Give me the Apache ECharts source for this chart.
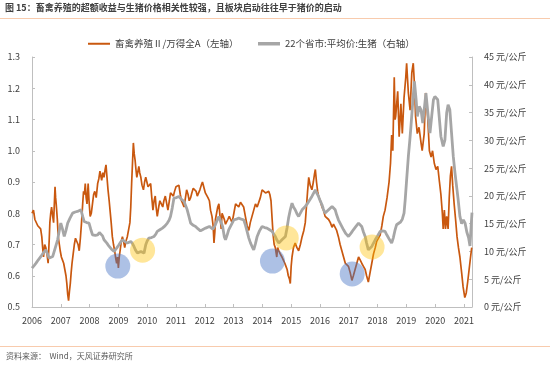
<!DOCTYPE html>
<html>
<head>
<meta charset="utf-8">
<script src="https://cdn.jsdelivr.net/npm/echarts@6/dist/echarts.min.js"></script>
<style>
html,body{margin:0;padding:0;background:#fff;}
#c{width:550px;height:365px;}
</style>
</head>
<body>
<div id="c"></div>
<script>
// ---- Data ----
const titleText = '图 15：畜禽养殖的超额收益与生猪价格相关性较强，且板块启动往往早于猪价的启动';
const sourceText = '资料来源：  Wind，天风证券研究所';
const seriesNameLeft = '畜禽养殖Ⅱ/万得全A（左轴）';
const seriesNameRight = '22个省市:平均价:生猪（右轴）';
const xTickYears = [2006,2007,2008,2009,2010,2011,2012,2013,2014,2015,2016,2017,2018,2019,2020,2021];

// Sector excess-return ratio (left axis), decimal year
const ratioYears = [
2006.00,2006.05,2006.10,2006.14,2006.20,2006.25,2006.30,2006.34,2006.37,2006.40,2006.44,2006.48,2006.52,2006.56,2006.60,2006.62,2006.65,2006.68,2006.72,2006.75,2006.78,2006.80,2006.82,2006.84,2006.88,2006.91,2006.95,2006.98,
2007.02,2007.06,2007.10,2007.14,2007.18,2007.21,2007.24,2007.27,2007.30,2007.33,2007.36,2007.39,2007.43,2007.47,2007.51,2007.56,2007.60,2007.64,2007.68,2007.72,2007.76,2007.79,2007.82,2007.85,2007.88,2007.91,2007.95,2007.98,
2008.02,2008.06,2008.10,2008.14,2008.18,2008.23,2008.28,2008.32,2008.36,2008.39,2008.42,2008.46,2008.50,2008.54,2008.57,2008.60,2008.64,2008.68,2008.71,2008.75,2008.79,2008.83,2008.87,2008.90,2008.94,2008.97,
2009.00,2009.03,2009.06,2009.10,2009.14,2009.18,2009.22,2009.26,2009.31,2009.36,2009.40,2009.43,2009.46,2009.49,2009.52,2009.55,2009.58,2009.61,2009.64,2009.67,2009.71,2009.74,2009.78,2009.82,2009.87,2009.91,2009.95,2009.99,
2010.03,2010.08,2010.12,2010.16,2010.20,2010.24,2010.28,2010.31,2010.35,2010.40,2010.44,2010.49,2010.54,2010.58,2010.63,2010.68,2010.72,2010.77,2010.81,2010.86,2010.91,2010.95,
2011.00,2011.05,2011.10,2011.15,2011.19,2011.24,2011.28,2011.33,2011.37,2011.42,2011.46,2011.51,2011.55,2011.60,2011.65,2011.70,2011.74,2011.79,2011.83,2011.88,2011.92,2011.97,
2012.02,2012.06,2012.11,2012.16,2012.20,2012.25,2012.29,2012.32,2012.35,2012.37,2012.41,2012.45,2012.49,2012.53,2012.57,2012.60,2012.64,2012.68,2012.72,2012.75,2012.80,2012.85,2012.90,2012.95,
2013.01,2013.07,2013.12,2013.18,2013.24,2013.30,2013.35,2013.41,2013.47,2013.53,2013.58,2013.64,2013.70,2013.76,2013.82,2013.87,2013.93,2013.99,
2014.05,2014.11,2014.16,2014.22,2014.26,2014.30,2014.34,2014.37,2014.41,2014.45,2014.50,2014.53,2014.57,2014.62,2014.68,2014.73,2014.78,2014.82,2014.86,2014.90,2014.94,2014.97,
2015.00,2015.03,2015.08,2015.14,2015.20,2015.26,2015.32,2015.38,2015.44,2015.49,2015.53,2015.57,2015.61,2015.66,2015.72,2015.77,2015.81,2015.84,2015.88,2015.92,2015.95,
2016.01,2016.07,2016.12,2016.18,2016.24,2016.30,2016.36,2016.42,2016.47,2016.53,2016.58,2016.64,2016.70,2016.76,2016.82,2016.88,2016.94,2016.99,
2017.05,2017.11,2017.16,2017.22,2017.28,2017.34,2017.40,2017.45,2017.51,2017.57,2017.62,2017.68,2017.74,2017.80,2017.86,2017.92,2017.97,
2018.03,2018.09,2018.15,2018.20,2018.26,2018.33,2018.40,2018.45,2018.49,2018.53,2018.58,2018.61,2018.63,2018.70,2018.75,2018.81,2018.86,2018.92,2018.98,
2019.01,2019.07,2019.13,2019.19,2019.24,2019.28,2019.32,2019.38,2019.44,2019.51,2019.55,2019.62,2019.67,2019.74,2019.80,2019.86,2019.91,2019.97,
2020.03,2020.09,2020.15,2020.20,2020.25,2020.28,2020.32,2020.36,2020.40,2020.45,2020.49,2020.53,2020.57,2020.61,2020.66,2020.71,2020.76,2020.81,2020.86,2020.92,2020.97,
2021.03,2021.08,2021.13,2021.18,2021.23,2021.27
];
const ratioValues = [
0.80,0.81,0.78,0.785,0.76,0.757,0.75,0.725,0.69,0.66,0.70,0.69,0.67,0.64,0.72,0.77,0.80,0.82,0.79,0.77,0.84,0.885,0.85,0.83,0.78,0.725,0.70,0.68,
0.66,0.65,0.64,0.62,0.60,0.575,0.54,0.52,0.55,0.575,0.61,0.64,0.67,0.70,0.72,0.725,0.70,0.68,0.72,0.77,0.83,0.87,0.86,0.895,0.85,0.83,0.895,0.84,
0.79,0.80,0.83,0.86,0.87,0.85,0.895,0.91,0.935,0.92,0.905,0.93,0.915,0.94,0.955,0.92,0.875,0.84,0.81,0.77,0.725,0.70,0.68,0.66,0.64,0.66,
0.625,0.66,0.68,0.71,0.725,0.71,0.69,0.71,0.725,0.75,0.77,0.82,0.895,0.96,1.025,0.99,0.97,0.94,0.915,0.93,0.95,0.93,0.915,0.89,0.875,0.90,0.915,0.90,
0.885,0.89,0.895,0.85,0.81,0.84,0.855,0.82,0.79,0.82,0.84,0.83,0.82,0.84,0.855,0.83,0.81,0.84,0.865,0.86,0.855,0.87,
0.885,0.88,0.89,0.86,0.84,0.83,0.82,0.85,0.875,0.86,0.84,0.85,0.865,0.88,0.885,0.87,0.855,0.86,0.875,0.89,0.90,0.895,
0.865,0.87,0.85,0.84,0.81,0.79,0.76,0.705,0.74,0.78,0.80,0.82,0.83,0.79,0.75,0.80,0.79,0.78,0.765,0.76,0.78,0.79,0.78,0.77,
0.80,0.83,0.825,0.82,0.835,0.84,0.82,0.79,0.76,0.745,0.77,0.79,0.81,0.83,0.82,0.82,0.85,0.875,
0.87,0.865,0.87,0.87,0.86,0.84,0.78,0.735,0.70,0.69,0.66,0.69,0.68,0.67,0.66,0.65,0.64,0.63,0.62,0.60,0.59,0.575,
0.63,0.66,0.69,0.705,0.69,0.68,0.70,0.725,0.745,0.77,0.82,0.87,0.915,0.89,0.875,0.90,0.925,0.94,0.90,0.87,0.855,
0.84,0.82,0.81,0.79,0.785,0.78,0.77,0.755,0.765,0.77,0.745,0.725,0.70,0.68,0.66,0.64,0.635,0.63,
0.61,0.585,0.60,0.62,0.64,0.66,0.65,0.64,0.63,0.62,0.60,0.58,0.61,0.64,0.67,0.69,0.71,
0.705,0.73,0.76,0.79,0.81,0.85,0.90,0.96,1.05,1.00,1.235,1.10,1.11,1.19,1.045,1.15,1.055,1.17,1.235,
1.28,1.185,1.13,1.25,1.28,1.215,1.11,1.055,1.075,1.025,1.00,1.055,1.185,1.11,1.00,0.98,1.00,0.96,
0.94,0.95,0.90,0.86,0.80,0.75,0.81,0.75,0.79,0.75,0.85,0.92,0.95,0.89,0.83,0.78,0.725,0.69,0.66,0.61,0.565,
0.53,0.545,0.58,0.62,0.66,0.69
];

// Hog price, 22 provinces average (right axis, 元/公斤)
const priceYears = [
2006.00,2006.08,2006.14,2006.22,2006.31,2006.40,2006.48,2006.55,2006.60,2006.66,2006.72,2006.80,2006.89,2006.95,
2007.00,2007.06,2007.12,2007.18,2007.24,2007.32,2007.41,2007.50,2007.58,2007.64,2007.70,2007.76,2007.81,2007.90,2007.98,
2008.04,2008.10,2008.20,2008.28,2008.34,2008.39,2008.45,2008.50,2008.60,2008.68,2008.76,2008.85,2008.94,
2009.02,2009.08,2009.14,2009.22,2009.31,2009.37,2009.43,2009.49,2009.54,2009.60,2009.66,2009.72,2009.78,2009.84,2009.89,2009.95,
2010.00,2010.06,2010.15,2010.24,2010.30,2010.35,2010.44,2010.53,2010.62,2010.70,2010.76,2010.81,2010.87,2010.93,
2011.02,2011.10,2011.19,2011.28,2011.34,2011.39,2011.45,2011.51,2011.60,2011.68,2011.76,2011.85,2011.95,
2012.03,2012.09,2012.16,2012.22,2012.28,2012.35,2012.43,2012.49,2012.55,2012.62,2012.68,2012.72,2012.78,2012.83,2012.92,
2013.01,2013.10,2013.18,2013.27,2013.35,2013.41,2013.47,2013.53,2013.59,2013.65,2013.70,2013.76,2013.82,2013.90,2013.99,
2014.08,2014.16,2014.25,2014.34,2014.40,2014.45,2014.51,2014.57,2014.62,2014.68,2014.74,2014.80,2014.86,2014.91,2014.97,
2015.03,2015.08,2015.14,2015.20,2015.26,2015.32,2015.38,2015.44,2015.49,2015.55,2015.61,2015.66,2015.72,2015.78,2015.84,2015.90,2015.95,
2016.01,2016.07,2016.12,2016.18,2016.24,2016.30,2016.36,2016.42,2016.47,2016.53,2016.58,2016.64,2016.73,2016.82,2016.90,2016.99,
2017.08,2017.16,2017.25,2017.34,2017.40,2017.45,2017.51,2017.57,2017.62,2017.68,2017.74,2017.80,2017.86,2017.92,
2018.00,2018.09,2018.17,2018.26,2018.32,2018.38,2018.43,2018.49,2018.55,2018.61,2018.66,2018.72,2018.80,2018.86,2018.92,2018.96,
2019.01,2019.07,2019.12,2019.16,2019.22,2019.28,2019.34,2019.38,2019.45,2019.51,2019.57,2019.62,2019.68,2019.76,2019.82,2019.88,2019.94,2019.99,
2020.05,2020.09,2020.14,2020.20,2020.28,2020.34,2020.40,2020.45,2020.51,2020.57,2020.63,2020.69,2020.75,2020.80,2020.86,2020.92,2020.98,
2021.04,2021.10,2021.16,2021.21,2021.25,2021.28
];
const priceValues = [
7.0,7.5,7.9,8.5,9.1,9.8,10.3,9.4,8.8,8.9,9.1,10.5,12.1,13.8,
15.1,14.0,12.7,13.8,15.1,16.0,16.9,17.1,17.2,17.4,17.5,16.3,15.4,15.2,15.1,
14.0,13.0,12.9,13.0,13.4,13.6,12.8,12.1,11.5,10.9,10.4,10.0,10.6,
11.2,11.7,12.1,11.8,11.5,11.6,11.8,11.4,10.9,10.2,9.7,9.8,10.0,9.8,9.7,11.2,
11.9,12.4,12.5,12.7,13.1,13.6,13.9,14.2,14.6,15.1,15.6,16.3,17.8,19.6,
19.7,19.9,19.4,19.0,18.2,17.5,16.3,15.1,14.7,14.5,14.1,13.7,14.0,
14.2,14.4,14.5,14.2,14.0,14.6,15.6,16.3,16.6,14.5,12.6,12.1,13.0,13.9,14.8,
15.7,15.8,16.0,15.8,15.7,14.8,13.6,12.4,11.5,10.8,10.3,11.4,12.7,13.7,14.5,
14.3,14.2,13.9,13.6,13.1,12.7,12.0,11.5,11.8,12.1,12.4,12.7,14.3,16.0,17.5,
18.7,18.0,17.5,16.8,16.3,16.9,17.5,17.8,18.1,18.5,19.0,19.4,19.9,20.5,21.1,20.4,19.9,
19.1,18.4,17.6,16.9,17.2,17.5,17.8,18.1,17.8,17.5,16.6,15.7,14.8,13.9,13.2,12.7,
13.3,13.9,14.5,15.1,14.8,14.5,13.5,12.7,11.5,10.3,10.6,10.9,11.5,12.1,
12.8,13.6,13.7,13.6,13.0,12.7,12.0,11.5,12.5,13.9,14.8,15.1,15.3,15.8,16.9,19.3,
22.9,27.1,30.0,32.5,36.7,40.6,37.3,34.3,36.1,35.5,33.1,35.5,38.5,34.3,31.3,34.3,37.3,37.9,
37.8,37.3,34.3,30.7,28.9,30.1,34.9,36.4,35.5,31.3,27.1,24.1,21.5,19.3,16.3,15.0,15.7,
15.1,13.5,12.5,11.0,14.5,17.0
];

// Highlight circles (annotation markers, left-axis units)
const blueCircleYears = [2008.98, 2014.35, 2017.12];
const blueCircleLevels = [0.631, 0.647, 0.606];
const yellowCircleYears = [2009.84, 2014.83, 2017.81];
const yellowCircleLevels = [0.682, 0.721, 0.692];

// ---- Chart ----
const zip = (xs, ys) => xs.map((x, i) => [x, ys[i]]);
const FONT = '"Noto Sans CJK SC","Noto Sans",sans-serif';
const ORANGE = '#C9580F';
const GRAY = '#A6A6A6';
const AXIS = '#BFBFBF';
const LABEL = '#404040';

const chart = echarts.init(document.getElementById('c'), null, {renderer: 'canvas'});
chart.setOption({
  animation: false,
  backgroundColor: '#ffffff',
  textStyle: {fontFamily: FONT},
  graphic: [
    {type: 'text', left: 5, top: 3, style: {text: titleText, font: 'bold 9px ' + FONT, fill: '#404040'}},
    {type: 'rect', left: 0, top: 18, shape: {width: 550, height: 1}, style: {fill: '#F8CBAD'}},
    {type: 'rect', left: 0, top: 346, shape: {width: 550, height: 1}, style: {fill: '#F8CBAD'}},
    {type: 'text', left: 6, top: 352, style: {text: sourceText, font: '8px ' + FONT, fill: '#595959'}}
  ],
  legend: [
    {data: [{name: seriesNameLeft, icon: 'rect'}], left: 83, top: 34, itemWidth: 22, itemHeight: 2,
     textStyle: {fontSize: 9.5, color: LABEL, fontFamily: FONT}},
    {data: [{name: seriesNameRight, icon: 'rect'}], left: 253, top: 34, itemWidth: 22, itemHeight: 3.5,
     textStyle: {fontSize: 9.5, color: LABEL, fontFamily: FONT}}
  ],
  grid: {left: 32, right: 78, top: 57, bottom: 58},
  xAxis: {
    type: 'value', min: 2006, max: 2021.28, interval: 1,
    axisLine: {show: true, lineStyle: {color: AXIS, width: 1}},
    axisTick: {show: true, inside: true, length: 3, lineStyle: {color: AXIS}},
    splitLine: {show: false},
    axisLabel: {
      color: LABEL, fontSize: 9, margin: 9, fontFamily: FONT,
      formatter: v => {
        const r = Math.round(v);
        return (Math.abs(v - r) < 1e-6 && xTickYears.indexOf(r) >= 0) ? String(r) : '';
      }
    }
  },
  yAxis: [
    {
      type: 'value', min: 0.5, max: 1.3, interval: 0.1, position: 'left',
      axisLine: {show: true, lineStyle: {color: AXIS}},
      axisTick: {show: true, inside: true, length: 3, lineStyle: {color: AXIS}},
      splitLine: {show: false},
      axisLabel: {color: LABEL, fontSize: 9, margin: 12, fontFamily: FONT, formatter: v => v.toFixed(1)}
    },
    {
      type: 'value', min: 0, max: 45, interval: 5, position: 'right',
      axisLine: {show: true, lineStyle: {color: AXIS}},
      axisTick: {show: true, inside: true, length: 3, lineStyle: {color: AXIS}},
      splitLine: {show: false},
      axisLabel: {color: LABEL, fontSize: 9, margin: 12, fontFamily: FONT, formatter: '{value} 元/公斤'}
    }
  ],
  series: [
    {
      name: seriesNameLeft, type: 'line', yAxisIndex: 0, showSymbol: false, symbol: 'none',
      data: zip(ratioYears, ratioValues),
      itemStyle: {color: ORANGE},
      lineStyle: {color: ORANGE, width: 1.7}, z: 2
    },
    {
      name: seriesNameRight, type: 'line', yAxisIndex: 1, showSymbol: false, symbol: 'none',
      data: zip(priceYears, priceValues),
      itemStyle: {color: GRAY},
      lineStyle: {color: GRAY, width: 2.8}, z: 3
    },
    {
      type: 'scatter', yAxisIndex: 0, symbolSize: 25, silent: true, z: 5,
      data: zip(blueCircleYears, blueCircleLevels),
      itemStyle: {color: 'rgba(68,114,196,0.55)'}
    },
    {
      type: 'scatter', yAxisIndex: 0, symbolSize: 25, silent: true, z: 5,
      data: zip(yellowCircleYears, yellowCircleLevels),
      itemStyle: {color: 'rgba(255,192,0,0.5)'}
    }
  ]
});
</script>
</body>
</html>
